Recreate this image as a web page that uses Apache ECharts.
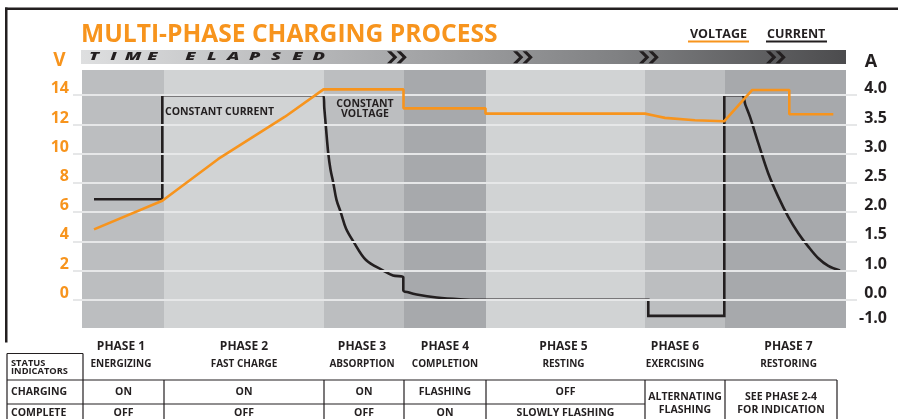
<!DOCTYPE html>
<html>
<head>
<meta charset="utf-8">
<script src="https://cdn.jsdelivr.net/npm/echarts@6/dist/echarts.min.js"></script>
<style>
html,body{margin:0;padding:0;background:#ffffff;}
#chart{width:898px;height:419px;}
</style>
</head>
<body>
<div id="chart"></div>
<script>
// ---------------- DATA ----------------
const titleText = 'MULTI-PHASE CHARGING PROCESS';
const phaseNames = ['PHASE 1','PHASE 2','PHASE 3','PHASE 4','PHASE 5','PHASE 6','PHASE 7'];
const phaseSubtitles = ['ENERGIZING','FAST CHARGE','ABSORPTION','COMPLETION','RESTING','EXERCISING','RESTORING'];
// phase boundaries on the elapsed-time axis (arbitrary time units)
const phaseBounds = [0, 82, 242, 322, 404, 563, 643, 764];
const chargingStatus = ['ON','ON','ON','FLASHING','OFF', null, null];
const completeStatus = ['OFF','OFF','OFF','ON','SLOWLY FLASHING', null, null];
const mergedStatus = [null, null, null, null, null, 'ALTERNATING\nFLASHING', 'SEE PHASE 2-4\nFOR INDICATION'];

// left axis (volts)
const voltageTicks = [0, 2, 4, 6, 8, 10, 12, 14];
// right axis (amps): labels, their values, and where each sits on the shared vertical scale
const currentTickLabels = ['-1.0','0.0','1.0','1.5','2.0','2.5','3.0','3.5','4.0'];
const currentTickAmps   = [-1.0, 0.0, 1.0, 1.5, 2.0, 2.5, 3.0, 3.5, 4.0];
const currentTickPos    = [-1.1, 0, 2, 4, 6, 8, 10, 12, 14];

// voltage (V) over time
const voltageTime   = [12, 80.3, 136.3, 203, 241.5, 321.5, 321.5, 403.5, 403.5, 563, 573, 583, 613, 642.3, 670.3, 707.3, 707.3, 751.3];
const voltageValues = [4.82, 6.78, 9.64, 12.53, 14.4, 14.4, 13.1, 13.1, 12.74, 12.74, 12.6, 12.45, 12.29, 12.22, 14.36, 14.36, 12.7, 12.7];

// current (A) over time
const currentTime   = [12, 80.3, 80.3, 241.3, 242.3, 243.7, 246.3, 248.5, 251.3, 254.5, 258.7, 264, 271.3, 284, 301.3, 311, 321.3, 321.3, 327, 334.7, 354.7, 378, 398, 566.3, 566.3, 642.3, 642.3, 659.7, 663.5, 668, 676.3, 686.3, 696.3, 706.3, 716.3, 726.3, 736.3, 746.3, 758];
const currentValues = [2.22, 2.22, 4.0, 4.0, 3.78, 3.5, 3.0, 2.73, 2.5, 2.21, 2.0, 1.72, 1.5, 1.18, 1.0, 0.83, 0.77, 0.33, 0.25, 0.18, 0.08, 0.02, 0.0, 0.0, -1.0, -1.0, 4.0, 4.0, 3.83, 3.63, 3.18, 2.66, 2.26, 1.92, 1.64, 1.41, 1.21, 1.08, 1.0];

// ---------------- STYLE ----------------
const ORANGE = '#f7941d';
const INK = '#231f20';
const FONT = 'Open Sans';
const bandColors = ['#bcbec0', '#d1d3d4', '#bcbec0', '#a7a9ac', '#d1d3d4', '#bcbec0', '#a7a9ac'];
const bandTop = 15.73, bandBottom = -1.94;
// where the right-axis text is printed (the reference prints "-1.0" below its line)
const currentLabelPos = [-1.75, 0, 2, 4, 6, 8, 10, 12, 14];

// right axis scale: piecewise between its labelled ticks (as printed on the reference)
function ampsToScale(a) {
  for (let i = 0; i < currentTickAmps.length - 1; i++) {
    const a0 = currentTickAmps[i], a1 = currentTickAmps[i + 1];
    if (a <= a1 || i === currentTickAmps.length - 2) {
      const p0 = currentTickPos[i], p1 = currentTickPos[i + 1];
      return p0 + (a - a0) * (p1 - p0) / (a1 - a0);
    }
  }
}

const voltageData = voltageTime.map((t, i) => [t, voltageValues[i]]);
const currentData = currentTime.map((t, i) => [t, ampsToScale(currentValues[i])]);

const chart = echarts.init(document.getElementById('chart'), null, {renderer: 'canvas'});

const axisLabelBase = {fontSize: 16, fontWeight: 'bold', fontFamily: FONT, verticalAlign: 'bottom', lineHeight: 13};

chart.setOption({
  animation: false,
  backgroundColor: '#ffffff',
  grid: {left: 73, right: 41, top: 66, bottom: 90, containLabel: false, outerBoundsMode: 'none'},
  xAxis: {type: 'value', min: -9, max: 775, show: false},
  yAxis: [
    {
      type: 'value', min: -2, max: 16, interval: 2, position: 'left',
      axisLine: {show: false}, axisTick: {show: false}, splitLine: {show: false},
      axisLabel: Object.assign({}, axisLabelBase, {
        margin: 4, color: ORANGE,
        formatter: v => voltageTicks.indexOf(v) >= 0 ? String(v) : ''
      })
    },
    {
      type: 'value', min: -2, max: 16, position: 'right',
      axisLine: {show: false}, axisTick: {show: false}, splitLine: {show: false},
      axisLabel: Object.assign({}, axisLabelBase, {
        customValues: currentLabelPos,
        align: 'right', margin: 30, color: INK,
        formatter: v => {
          const i = currentLabelPos.findIndex(p => Math.abs(p - v) < 1e-6);
          return i >= 0 ? currentTickLabels[i] : '';
        }
      })
    }
  ],
  series: [
    {
      name: 'bands', type: 'line', data: [], z: 1, silent: true,
      markArea: {
        silent: true,
        data: phaseNames.map((n, i) => [
          {xAxis: phaseBounds[i], yAxis: bandBottom, itemStyle: {color: bandColors[i], opacity: 1}},
          {xAxis: phaseBounds[i + 1], yAxis: bandTop}
        ])
      }
    },
    {
      name: 'grid', type: 'line', data: [], z: 2, silent: true,
      markLine: {
        silent: true, symbol: 'none', label: {show: false},
        lineStyle: {color: '#e6e7e8', width: 2, type: 'solid'},
        data: voltageTicks.map(v => ({yAxis: v}))
      }
    },
    {
      name: 'CURRENT', type: 'line', yAxisIndex: 1, data: currentData, z: 4,
      showSymbol: false, symbol: 'none', smooth: 0.35,
      lineStyle: {color: INK, width: 2.6, join: 'miter'}
    },
    {
      name: 'VOLTAGE', type: 'line', yAxisIndex: 0, data: voltageData, z: 5,
      showSymbol: false, symbol: 'none', smooth: false,
      lineStyle: {color: ORANGE, width: 2.6}
    }
  ]
});

// ---------------- DECORATION / TABLE ----------------
const px = t => chart.convertToPixel({xAxisIndex: 0}, t);
const G = [];
const txt = (x, y, text, size, opts) => G.push(Object.assign({
  type: 'text', x: x, y: y, z: 100,
  style: Object.assign({text: text, fill: INK, fontSize: size, fontWeight: 'bold', fontFamily: FONT,
    align: 'left', verticalAlign: 'middle'}, (opts && opts.style) || {})
}, (opts && opts.el) || {}));
const line = (x1, y1, x2, y2, w, c) => G.push({type: 'line', z: 100, shape: {x1, y1, x2, y2}, style: {stroke: c || INK, lineWidth: w || 1.2}});

// frame
G.push({type: 'rect', z: 100, shape: {x: 5, y: 7.5, width: 893, height: 2.5}, style: {fill: INK}});
G.push({type: 'rect', z: 100, shape: {x: 5, y: 7.5, width: 2.5, height: 335}, style: {fill: INK}});

// title
txt(81, 35, titleText, 24.6, {style: {fill: ORANGE}});

// legend
txt(690, 34.5, 'VOLTAGE', 12.5);
G.push({type: 'rect', z: 100, shape: {x: 688, y: 40.5, width: 61, height: 2}, style: {fill: ORANGE}});
txt(767, 34.5, 'CURRENT', 12.5);
G.push({type: 'rect', z: 100, shape: {x: 766, y: 40.5, width: 61, height: 2}, style: {fill: INK}});

// axis unit letters
txt(59.5, 61, 'V', 19, {style: {fill: ORANGE, align: 'center'}});
txt(871, 61.5, 'A', 18, {style: {align: 'center'}});

// time elapsed bar
G.push({type: 'rect', z: 100, shape: {x: 81, y: 50, width: 765, height: 14},
  style: {fill: new echarts.graphic.LinearGradient(0, 0, 1, 0, [
    {offset: 0, color: '#dedfe0'}, {offset: 0.4, color: '#a9aaac'},
    {offset: 0.7, color: '#808183'}, {offset: 1, color: '#4c4c4e'}])}});
const w1 = 'TIME', w2 = 'ELAPSED';
const letterStyle = {style: {align: 'center', fontStyle: 'italic', fontWeight: 900}, el: {scaleX: 1.75}};
w1.split('').forEach((ch, i) => txt(94 + i * 19.5, 57.3, ch, 10.5, letterStyle));
w2.split('').forEach((ch, i) => txt(190.5 + i * 21.4, 57.3, ch, 10.5, letterStyle));
[387, 513, 639, 766].forEach(x0 => {
  [0, 9.5].forEach(d => {
    const x = x0 + d;
    G.push({type: 'polygon', z: 100, shape: {points: [[x, 51.3], [x + 4.3, 51.3], [x + 10.3, 57.3], [x + 4.3, 63.3], [x, 63.3], [x + 6, 57.3]]}, style: {fill: INK}});
  });
});

// annotations in plot
txt(px(83), 112.3, 'CONSTANT CURRENT', 10.5);
txt(365, 104, 'CONSTANT', 10.5, {style: {align: 'center'}});
txt(365, 114, 'VOLTAGE', 10.5, {style: {align: 'center'}});

// phase labels
const labelShift = [-2, 0, -2, 0, -2, -10, 3];
phaseNames.forEach((n, i) => {
  const cx = (px(phaseBounds[i]) + px(phaseBounds[i + 1])) / 2 + labelShift[i];
  txt(cx, 346.5, n, 12, {style: {align: 'center'}});
  txt(cx, 364, phaseSubtitles[i], 10, {style: {align: 'center'}});
});

// status table
const tableLeft = 7, tableRight = 837;
const cols = [tableLeft].concat(phaseBounds.slice(0, 7).map(px)).concat([tableRight]);
cols[1] = px(phaseBounds[0]) + 1;
const yHead = 353.5, yRow1 = 380, yRow2 = 404, yEnd = 430;
line(tableLeft, yHead, cols[1], yHead);
line(tableLeft, yHead, tableLeft, yEnd);
line(cols[1], yHead, cols[1], yEnd);
line(tableLeft, yRow1, tableRight, yRow1);
line(tableLeft, yRow2, cols[6], yRow2);
for (let c = 2; c < cols.length; c++) line(cols[c], yRow1, cols[c], yEnd);
txt(11, 363, 'STATUS', 9.3);
txt(11, 371.5, 'INDICATORS', 9.3);
txt(11, 392, 'CHARGING', 10.5);
txt(11, 413.5, 'COMPLETE', 10.5);
for (let i = 0; i < 7; i++) {
  const cx = (cols[i + 1] + cols[i + 2]) / 2;
  if (mergedStatus[i]) {
    txt(cx, 403.5, mergedStatus[i], 10.5, {style: {align: 'center', lineHeight: 12.5}});
  } else {
    txt(cx, 392, chargingStatus[i], 10.5, {style: {align: 'center'}});
    txt(cx, 413.5, completeStatus[i], 10.5, {style: {align: 'center'}});
  }
}

chart.setOption({graphic: {elements: G}});
</script>
</body>
</html>
